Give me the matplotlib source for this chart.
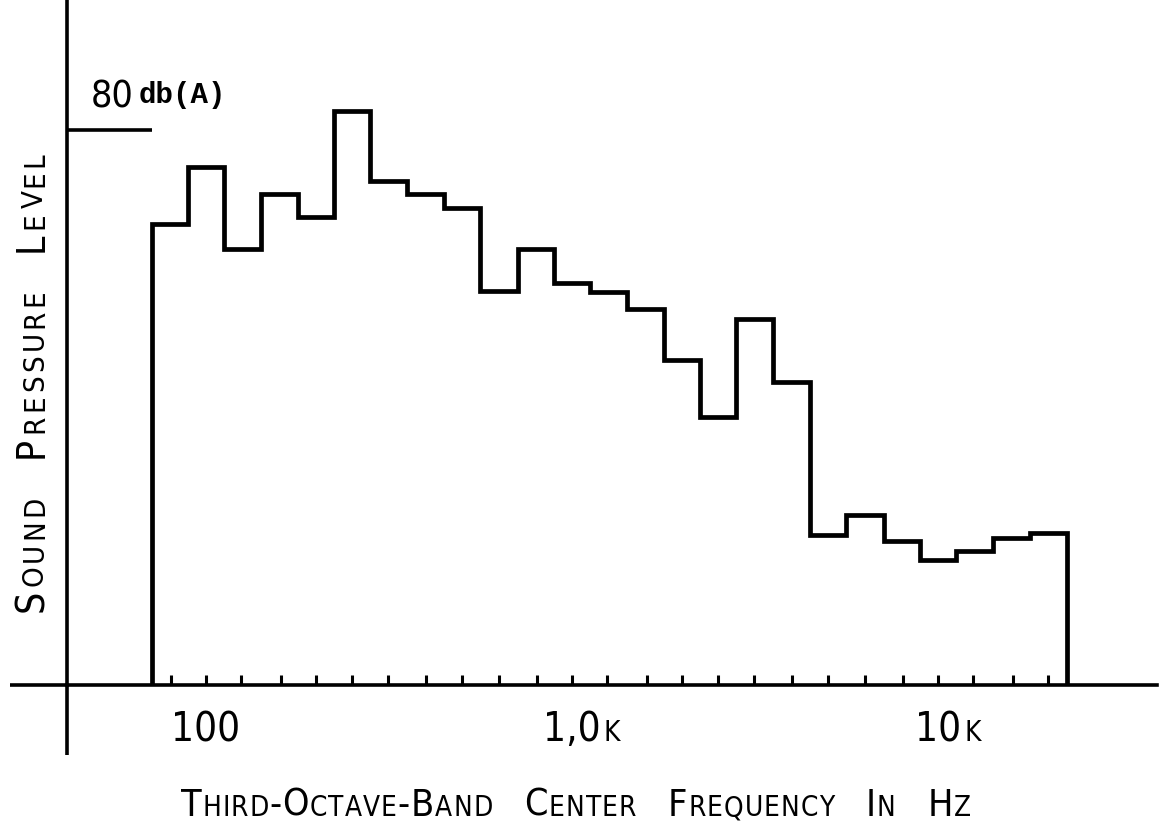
import numpy as np
import matplotlib
matplotlib.use("Agg")
import matplotlib.pyplot as plt
from matplotlib import font_manager as fm

# ---------------- data ----------------
freqs = [80, 100, 125, 160, 200, 250, 315, 400, 500, 630, 800, 1000, 1250,
         1600, 2000, 2500, 3150, 4000, 5000, 6300, 8000, 10000, 12500, 16000, 20000]
levels = [71.5, 76.7, 69.3, 74.2, 72.2, 81.7, 75.4, 74.2, 73.0, 65.5, 69.3, 66.2, 65.4,
          63.9, 59.3, 54.1, 63.0, 57.3, 43.5, 45.3, 43.0, 41.3, 42.1, 43.2, 43.7]
ref_level = 80
base_level = 30
tick_label_freqs = [100, 1000, 10000]
tick_label_nums = ["100", "1,0", "10"]
tick_label_suffix = ["", "k", "k"]
x_title = ["Third-Octave-Band", "Center", "Frequency", "In", "Hz"]
y_title = ["Sound", "Pressure", "Level"]

# ---------------- figure ----------------
W, H = 1159, 832
fig = plt.figure(figsize=(W / 100, H / 100), dpi=100)
names = {f.name for f in fm.fontManager.ttflist}
if "Liberation Sans Narrow" in names:
    SANS = dict(family="Liberation Sans Narrow")
else:
    SANS = dict(family="DejaVu Sans", stretch="condensed")
MONO = dict(family="Liberation Mono", weight="bold")

ax_l, ax_r, ax_b = 67, 1157, 685          # pixel positions of axis lines
ax = fig.add_axes([ax_l / W, (H - ax_b) / H, (ax_r - ax_l) / W, ax_b / H])
ax.set_xscale("log")
ppd = 366.0                                 # pixels per decade
def f_at(px):
    return 100 * 10 ** ((px - 206) / ppd)
ax.set_xlim(f_at(ax_l), f_at(ax_r))
ax.set_ylim(base_level, base_level + ax_b / 11.1)

LW_AX = 2.6
for s in ["top", "right"]:
    ax.spines[s].set_visible(False)
for s in ["left", "bottom"]:
    ax.spines[s].set_linewidth(LW_AX)
    ax.spines[s].set_color("black")
ax.set_yticks([])
ax.set_xticks(freqs)
ax.xaxis.set_minor_locator(matplotlib.ticker.NullLocator())
ax.tick_params(axis="x", direction="in", length=7.5, width=2.2, labelbottom=False)

# band edges (geometric means between centres)
f = np.array(freqs, dtype=float)
mids = np.sqrt(f[:-1] * f[1:])
edges = np.concatenate([[f[0] * 2 ** (-1 / 6)], mids, [f[-1] * 2 ** (1 / 6)]])
ax.stairs(levels, edges, baseline=base_level, color="black", linewidth=3.4,
          joinstyle="miter")

# 80 dB reference line
ax.plot([ax.get_xlim()[0], edges[0]], [ref_level, ref_level], color="black",
        lw=LW_AX, solid_capstyle="butt")

# extended axis lines
ax.plot([-(ax_l - 10) / (ax_r - ax_l), 0], [0, 0], transform=ax.transAxes,
        color="black", lw=LW_AX, clip_on=False, solid_capstyle="butt")
ax.plot([0, 0], [-(755 - ax_b) / ax_b, 0], transform=ax.transAxes,
        color="black", lw=LW_AX, clip_on=False, solid_capstyle="butt")

renderer = fig.canvas.get_renderer()

def width_of(s, size, props):
    t = fig.text(0, 0, s, fontsize=size, **props)
    w = t.get_window_extent(renderer).width
    t.remove()
    return w

def smallcaps(words, cx, cy, big, small, gap, rot=0, spacing=2.0):
    # draws each letter separately (lettering-guide look), centred on (cx, cy)
    items = []
    total = 0
    for w in words:
        for ch in w:
            sz = small if ch.islower() else big
            txt = ch.upper()
            wd = width_of(txt, sz, SANS)
            items.append((txt, sz, total))
            total += wd + spacing
        total += gap - spacing
    total -= gap
    for txt, sz, off in items:
        if rot == 0:
            x = cx - total / 2 + off
            fig.text(x / W, (H - cy) / H, txt, fontsize=sz, ha="left",
                     va="baseline", **SANS)
        else:
            y = (H - cy) - total / 2 + off
            fig.text(cx / W, y / H, txt, fontsize=sz, ha="left", va="baseline",
                     rotation=90, rotation_mode="anchor", **SANS)

# tick labels
for fr, num, suf in zip(tick_label_freqs, tick_label_nums, tick_label_suffix):
    px = ax.transData.transform((fr, base_level))[0]
    wn = width_of(num, 29, SANS)
    x0 = px - wn / 2
    fig.text(x0 / W, (H - 741) / H, num, fontsize=29, ha="left", va="baseline", **SANS)
    if suf:
        fig.text((x0 + wn + 3) / W, (H - 741) / H, suf.upper(), fontsize=20,
                 ha="left", va="baseline", **SANS)

# axis titles
smallcaps(x_title, 576, 816, 27, 20, 32, spacing=1.0)
smallcaps(y_title, 43, 382, 28, 21, 38, rot=90, spacing=3.5)

# 80 db(A) label
fig.text(91 / W, (H - 108) / H, str(ref_level), fontsize=27, ha="left",
         va="baseline", **SANS)
fig.text(139 / W, (H - 103) / H, "db(A)", fontsize=21, ha="left",
         va="baseline", **MONO)

fig.savefig("out.png", dpi=100, facecolor="white")
